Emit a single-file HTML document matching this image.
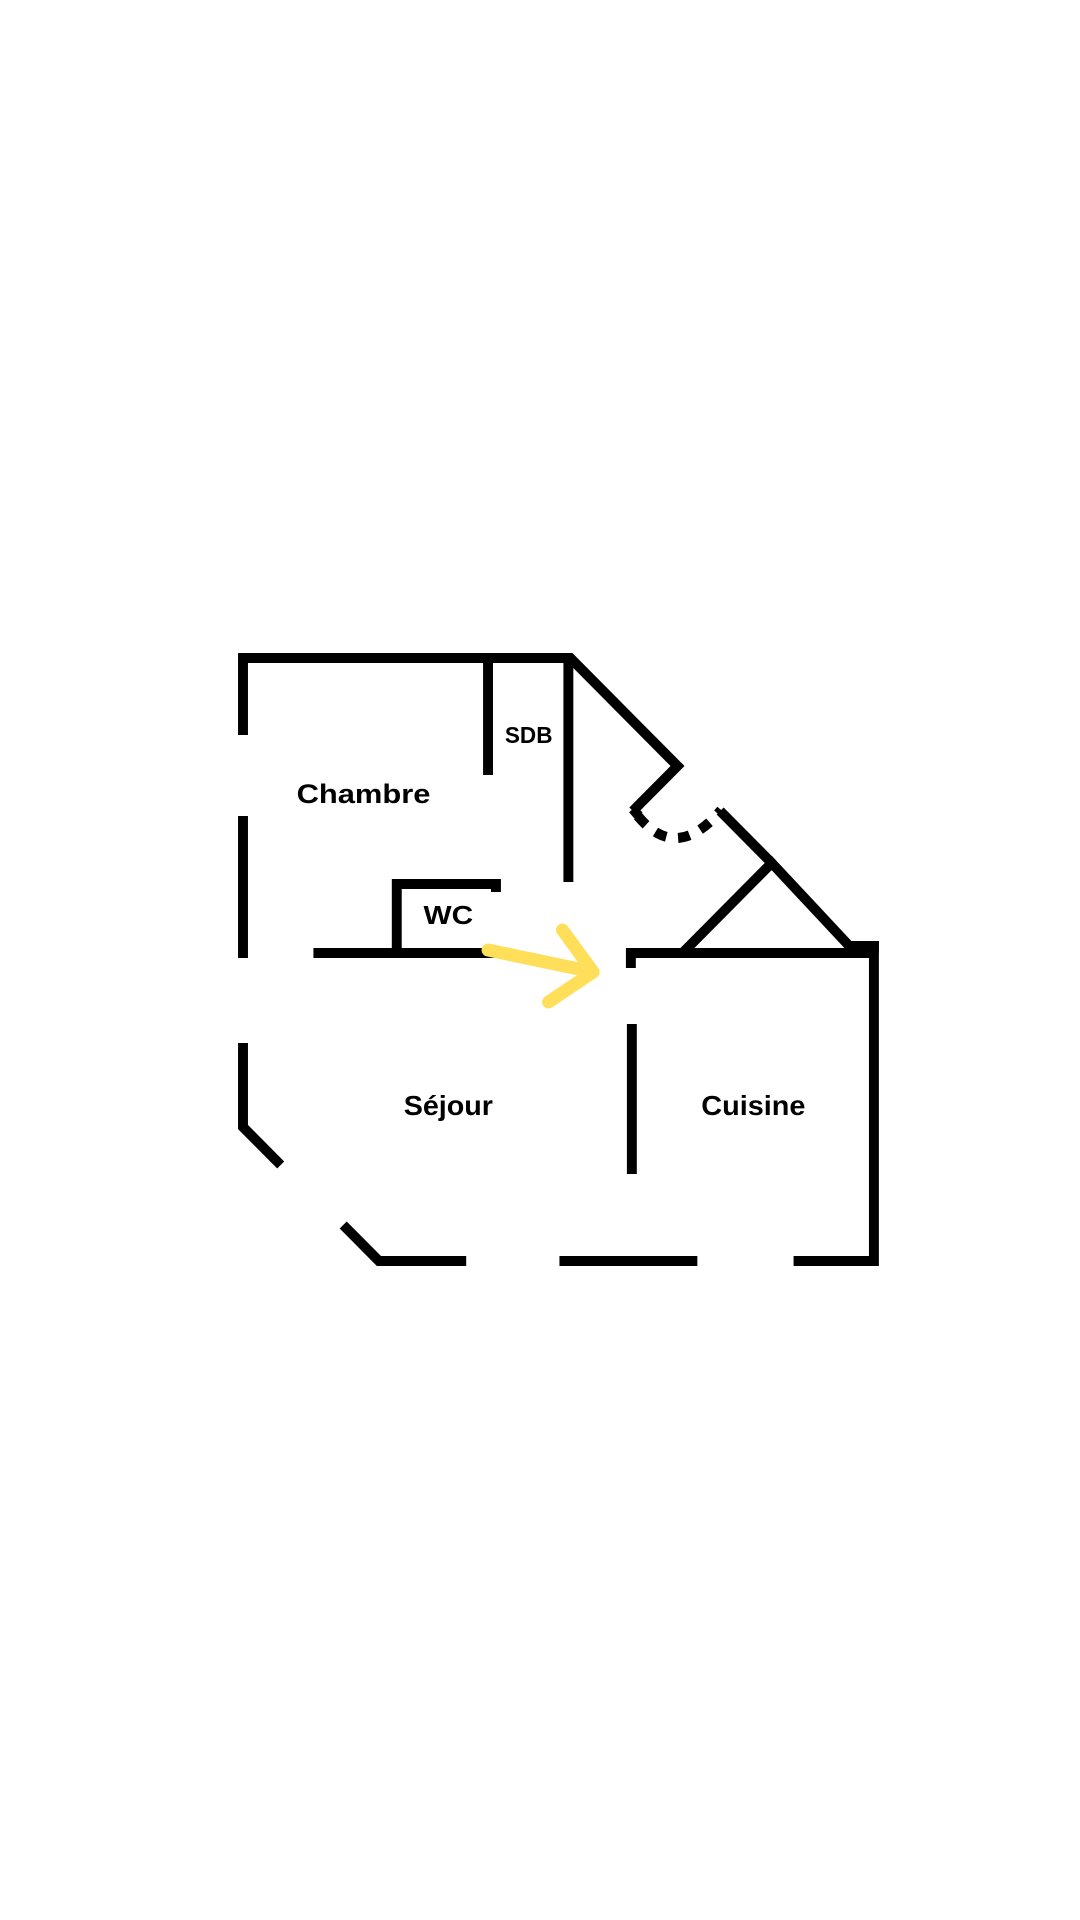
<!DOCTYPE html>
<html><head><meta charset="utf-8"><style>
html,body{margin:0;padding:0;background:#fff;}
svg{display:block}
text{font-family:"Liberation Sans",sans-serif;font-weight:bold;fill:#000}
</style></head><body>
<svg width="1080" height="1920" viewBox="0 0 1080 1920" xmlns="http://www.w3.org/2000/svg">
<g transform="translate(243,0) scale(0.992,1) translate(-243,-2)">
<g stroke="#000" stroke-width="10" fill="none" stroke-linecap="butt" stroke-linejoin="miter">
<polyline points="243,737 243,660 573,660 681,768 636,813"/>
<line x1="636" y1="811" x2="642" y2="818"/>
<line x1="243" y1="818" x2="243" y2="960"/>
<polyline points="243,1045 243,1129 281,1167"/>
<polyline points="344,1227 380,1263 468,1263"/>
<line x1="562" y1="1263" x2="701" y2="1263"/>
<polyline points="798,1263 879,1263 879,943"/>
<line x1="490" y1="660" x2="490" y2="777"/>
<line x1="571" y1="660" x2="571" y2="884"/>
<polyline points="314,955 500,955"/>
<polyline points="398,955 398,886 498,886 498,894"/>
<line x1="494" y1="950" x2="494" y2="955"/>
<polyline points="634,970 634,955 879,955"/>
<line x1="635" y1="1026" x2="635" y2="1176"/>
<polyline points="686,955 776,865 857,951"/>
<line x1="724" y1="813" x2="776" y2="865"/>
<path d="M641,818 Q680,865 725,812" stroke-dasharray="12,12"/>
</g>
<rect x="855" y="943" width="29" height="12" fill="#000"/>
<g stroke="#FFDF5A" stroke-width="13" fill="none" stroke-linecap="round" stroke-linejoin="round">
<line x1="490" y1="952" x2="596" y2="974"/>
<polyline points="565,932 596,974 551,1004"/>
</g>
<text x="297" y="805" font-size="27" textLength="135" lengthAdjust="spacingAndGlyphs">Chambre</text>
<text x="507" y="745" font-size="23" textLength="48" lengthAdjust="spacingAndGlyphs">SDB</text>
<text x="425" y="926" font-size="26" textLength="50" lengthAdjust="spacingAndGlyphs">WC</text>
<text x="405" y="1117" font-size="28" textLength="90" lengthAdjust="spacingAndGlyphs">Séjour</text>
<text x="705" y="1117" font-size="28" textLength="105" lengthAdjust="spacingAndGlyphs">Cuisine</text>
</g>
</svg>
</body></html>
